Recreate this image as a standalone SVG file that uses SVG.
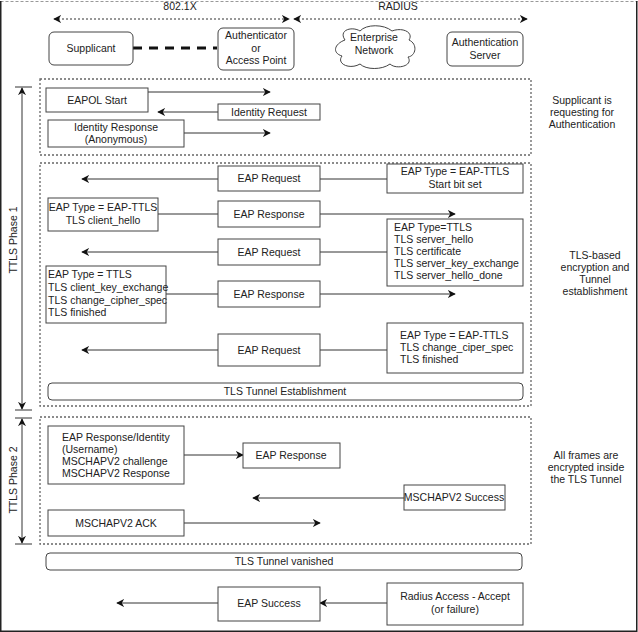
<svg xmlns="http://www.w3.org/2000/svg" width="638" height="632" viewBox="0 0 638 632">
<defs>
<marker id="ah" viewBox="0 0 10 10" refX="9" refY="5" markerWidth="8" markerHeight="8" markerUnits="userSpaceOnUse" orient="auto-start-reverse">
<path d="M0,0 L10,5 L0,10 L3,5 Z" fill="#111"/>
</marker>
<style>
text{font-family:"Liberation Sans",Arial,sans-serif;font-size:10.5px;fill:#222}
.c{text-anchor:middle}
.box{fill:#fff;stroke:#444;stroke-width:1}
.sec{fill:none;stroke:#666;stroke-width:1.3;stroke-dasharray:2 2}
.ln{stroke:#333;stroke-width:1;fill:none}
.ar{stroke:#333;stroke-width:1;fill:none;marker-end:url(#ah)}
.dar{stroke:#333;stroke-width:1;fill:none;stroke-dasharray:2 2;marker-start:url(#ah);marker-end:url(#ah)}
</style>
</defs>
<rect x="0" y="0" width="638" height="632" fill="#fff"/>
<line x1="0.5" y1="1.5" x2="637.5" y2="1.5" stroke="#999" stroke-dasharray="3 2"/>
<path d="M0.75,1 V631.25 H636.75 V1" fill="none" stroke="#222" stroke-width="1.5"/>

<g id="sections">
<rect class="sec" x="40" y="79" width="491" height="76"/>
<rect class="sec" x="40" y="163" width="491" height="243"/>
<rect class="sec" x="40" y="417" width="491" height="127"/>
</g>

<g id="header">
<text class="c" x="180" y="10">802.1X</text>
<text class="c" x="398" y="10">RADIUS</text>
<line class="dar" x1="54" y1="19" x2="289" y2="19"/>
<line class="dar" x1="294" y1="19" x2="527" y2="19"/>
</g>

<g id="connectors">
<line x1="133" y1="48" x2="217" y2="48" stroke="#111" stroke-width="3" stroke-dasharray="9 7"/>
<line class="ar" x1="148" y1="92" x2="270" y2="92"/>
<line class="ar" x1="218" y1="112" x2="158" y2="112"/>
<line class="ar" x1="184" y1="133" x2="270" y2="133"/>
<line class="ar" x1="387" y1="179" x2="82" y2="179"/>
<line class="ar" x1="158" y1="214" x2="455" y2="214"/>
<line class="ar" x1="387" y1="252" x2="82" y2="252"/>
<line class="ar" x1="166" y1="294" x2="455" y2="294"/>
<line class="ar" x1="387" y1="350" x2="82" y2="350"/>
<line class="ar" x1="184" y1="455" x2="243" y2="455"/>
<line class="ar" x1="404" y1="498" x2="253" y2="498"/>
<line class="ar" x1="184" y1="523" x2="320" y2="523"/>
<line class="ar" x1="218" y1="603" x2="117" y2="603"/>
<line class="ar" x1="387" y1="603" x2="320" y2="603"/>
<line x1="15" y1="87" x2="32" y2="87" stroke="#333"/>
<line x1="15" y1="410" x2="32" y2="410" stroke="#333"/>
<line x1="22" y1="88" x2="22" y2="409" stroke="#333" marker-start="url(#ah)" marker-end="url(#ah)"/>
<line x1="15" y1="418" x2="32" y2="418" stroke="#333"/>
<line x1="15" y1="544" x2="32" y2="544" stroke="#333"/>
<line x1="22" y1="419" x2="22" y2="543" stroke="#333" marker-start="url(#ah)" marker-end="url(#ah)"/>
</g>

<g id="phase-labels">
<text class="c" transform="translate(17,240) rotate(-90)">TTLS Phase 1</text>
<text class="c" transform="translate(17,480) rotate(-90)">TTLS Phase 2</text>
</g>

<g id="supplicant"><rect class="box" x="49" y="32" width="84" height="33" rx="5"/><text class="c" x="91" y="52">Supplicant</text></g>
<g id="authenticator"><rect class="box" x="218" y="28" width="76" height="42" rx="5"/><text class="c" x="256" y="39">Authenticator</text><text class="c" x="256" y="52">or</text><text class="c" x="256" y="64">Access Point</text></g>
<g id="enterprise-network">
<path class="box" d="M345,40 C338,30 352,26 360,31 C366,24 384,24 392,31 C402,27 414,32 409,40 C418,44 416,56 408,57 C414,66 396,70 390,64 C382,70 366,70 360,64 C350,70 336,64 342,56 C332,53 334,44 345,40 Z"/>
<text class="c" x="374" y="41">Enterprise</text><text class="c" x="374" y="54">Network</text>
</g>
<g id="auth-server"><rect class="box" x="447" y="32" width="76" height="34" rx="5"/><text class="c" x="485" y="46">Authentication</text><text class="c" x="485" y="59">Server</text></g>

<g id="eapol-start"><rect class="box" x="46" y="88" width="102" height="24"/><text class="c" x="97" y="104">EAPOL Start</text></g>
<g id="identity-request"><rect class="box" x="218" y="104" width="102" height="16"/><text class="c" x="269" y="116">Identity Request</text></g>
<g id="identity-response"><rect class="box" x="48" y="120" width="136" height="27"/><text class="c" x="116" y="131">Identity Response</text><text class="c" x="116" y="143">(Anonymous)</text></g>

<g id="eap-request-1"><rect class="box" x="218" y="166" width="102" height="25"/><text class="c" x="269" y="182">EAP Request</text></g>
<g id="start-bit"><rect class="box" x="387" y="164" width="136" height="29"/><text class="c" x="455" y="175">EAP Type = EAP-TTLS</text><text class="c" x="455" y="188">Start bit set</text></g>
<g id="client-hello"><rect class="box" x="48" y="198" width="110" height="33"/><text class="c" x="103" y="211">EAP Type = EAP-TTLS</text><text class="c" x="103" y="224">TLS client_hello</text></g>
<g id="eap-response-1"><rect class="box" x="218" y="201" width="102" height="26"/><text class="c" x="269" y="218">EAP Response</text></g>
<g id="eap-request-2"><rect class="box" x="218" y="239" width="102" height="26"/><text class="c" x="269" y="256">EAP Request</text></g>
<g id="server-hello"><rect class="box" x="387" y="219" width="136" height="67"/>
<text x="394" y="231">EAP Type=TTLS</text><text x="394" y="243">TLS server_hello</text><text x="394" y="255">TLS certificate</text><text x="394" y="267">TLS server_key_exchange</text><text x="394" y="279">TLS server_hello_done</text></g>
<g id="client-key"><rect class="box" x="46" y="266" width="120" height="57"/>
<text x="48" y="278">EAP Type = TTLS</text><text x="48" y="291">TLS client_key_exchange</text><text x="48" y="304">TLS change_cipher_spec</text><text x="48" y="316">TLS finished</text></g>
<g id="eap-response-2"><rect class="box" x="218" y="281" width="102" height="26"/><text class="c" x="269" y="298">EAP Response</text></g>
<g id="eap-request-3"><rect class="box" x="218" y="334" width="102" height="32"/><text class="c" x="269" y="354">EAP Request</text></g>
<g id="server-finished"><rect class="box" x="387" y="323" width="136" height="50"/>
<text x="400" y="339">EAP Type = EAP-TTLS</text><text x="400" y="351">TLS change_ciper_spec</text><text x="400" y="363">TLS finished</text></g>
<g id="tls-establishment"><rect class="box" x="48" y="383" width="475" height="17" rx="4"/><text class="c" x="285" y="395">TLS Tunnel Establishment</text></g>

<g id="eap-response-identity"><rect class="box" x="48" y="426" width="136" height="58"/>
<text x="62" y="441">EAP Response/Identity</text><text x="62" y="453">(Username)</text><text x="62" y="465">MSCHAPV2 challenge</text><text x="62" y="477">MSCHAPV2 Response</text></g>
<g id="eap-response-3"><rect class="box" x="243" y="443" width="97" height="25"/><text class="c" x="291" y="459">EAP Response</text></g>
<g id="mschapv2-success"><rect class="box" x="404" y="485" width="101" height="25"/><text class="c" x="454" y="501">MSCHAPV2 Success</text></g>
<g id="mschapv2-ack"><rect class="box" x="48" y="510" width="136" height="26"/><text class="c" x="116" y="527">MSCHAPV2 ACK</text></g>

<g id="tls-vanished"><rect class="box" x="46" y="553" width="476" height="17" rx="4"/><text class="c" x="284" y="565">TLS Tunnel vanished</text></g>
<g id="eap-success"><rect class="box" x="218" y="587" width="102" height="34"/><text class="c" x="269" y="607">EAP Success</text></g>
<g id="radius-accept"><rect class="box" x="387" y="583" width="136" height="42"/><text class="c" x="455" y="600">Radius Access - Accept</text><text class="c" x="455" y="613">(or failure)</text></g>

<g id="side-notes">
<text class="c" x="582" y="104">Supplicant is</text><text class="c" x="582" y="116">requesting for</text><text class="c" x="582" y="128">Authentication</text>
<text class="c" x="595" y="259">TLS-based</text><text class="c" x="595" y="271">encryption and</text><text class="c" x="595" y="283">Tunnel</text><text class="c" x="595" y="295">establishment</text>
<text class="c" x="586" y="459">All frames are</text><text class="c" x="586" y="471">encrypted inside</text><text class="c" x="586" y="483">the TLS Tunnel</text>
</g>
</svg>
